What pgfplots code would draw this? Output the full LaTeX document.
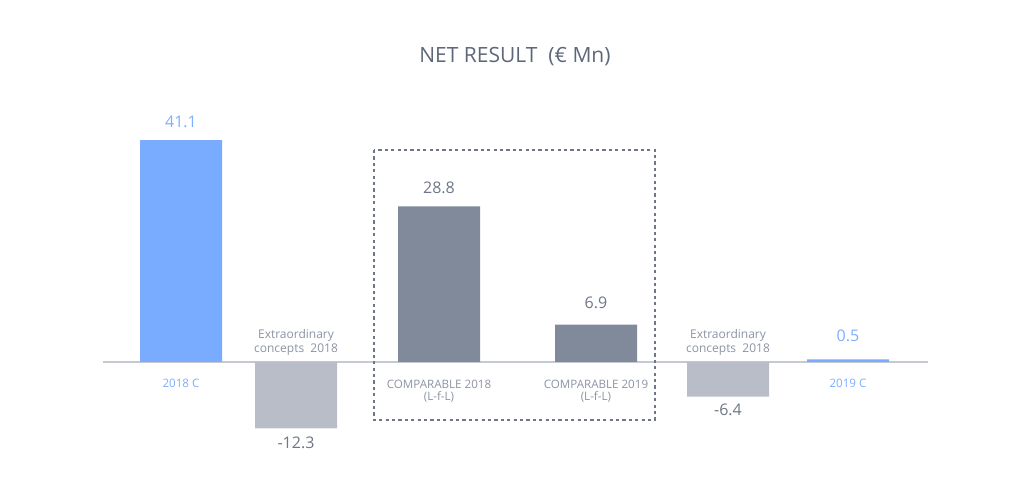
\documentclass[border=0pt]{standalone}
\usepackage{pgfplots}
\pgfplotsset{compat=1.18}
\usepackage{fontspec}
\setmainfont{Open Sans}
\definecolor{barblue}{HTML}{79ABFF}
\definecolor{bardark}{HTML}{808A9B}
\definecolor{barlight}{HTML}{B9BDC7}
\definecolor{titlecol}{HTML}{5E6779}
\definecolor{valcol}{HTML}{6E7687}
\definecolor{bluetext}{HTML}{7DAEFF}
\definecolor{catcol}{HTML}{8B93A3}
\definecolor{basecol}{HTML}{C5C9D1}
\begin{document}
\begin{tikzpicture}
\begin{axis}[
  scale only axis, width=515pt, height=247.5pt,
  xmin=0, xmax=1030, ymin=-24.63, ymax=67.04,
  axis lines=none, clip=false,
  ybar, bar width=82, bar shift=0pt,
]
\path (rel axis cs:0,0) rectangle (rel axis cs:1,1);
\draw[basecol, line width=0.7pt] (axis cs:103,0) -- (axis cs:928,0);
\addplot[fill=barblue, draw=none] coordinates {(181,41.1) (848,0.5)};
\addplot[fill=barlight, draw=none] coordinates {(296,-12.3) (728,-6.4)};
\addplot[fill=bardark, draw=none] coordinates {(439,28.8) (596,6.9)};
\draw[valcol, line width=0.6pt, dash pattern=on 1.6pt off 1.6pt] (rel axis cs:0.3631,0.6970) rectangle (rel axis cs:0.6359,0.1515);
% title
\node[titlecol, font=\fontsize{10.5}{12}\selectfont] at (rel axis cs:0.5,0.8848) {NET RESULT\ \ (€ Mn)};
% value labels
\node[bluetext, font=\fontsize{8}{10}\selectfont] at (rel axis cs:0.1757,0.7535) {41.1};
\node[valcol, font=\fontsize{8}{10}\selectfont] at (rel axis cs:0.2874,0.1051) {-12.3};
\node[valcol, font=\fontsize{8}{10}\selectfont] at (rel axis cs:0.4262,0.6202) {28.8};
\node[valcol, font=\fontsize{8}{10}\selectfont] at (rel axis cs:0.5786,0.3879) {6.9};
\node[valcol, font=\fontsize{8}{10}\selectfont] at (rel axis cs:0.7068,0.1717) {-6.4};
\node[bluetext, font=\fontsize{8}{10}\selectfont] at (rel axis cs:0.8233,0.3212) {0.5};
% category labels
\node[bluetext, font=\fontsize{5.8}{7}\selectfont] at (rel axis cs:0.1757,0.2263) {2018 C};
\node[bluetext, font=\fontsize{5.8}{7}\selectfont] at (rel axis cs:0.8233,0.2263) {2019 C};
\node[catcol, font=\fontsize{6}{7}\selectfont, align=center] at (rel axis cs:0.2874,0.3091) {Extraordinary\\concepts\ \ 2018};
\node[catcol, font=\fontsize{6}{7}\selectfont, align=center] at (rel axis cs:0.7068,0.3091) {Extraordinary\\concepts\ \ 2018};
\node[catcol, font=\fontsize{5.8}{6}\selectfont, align=center] at (rel axis cs:0.4262,0.2101) {COMPARABLE 2018\\(L-f-L)};
\node[catcol, font=\fontsize{5.8}{6}\selectfont, align=center] at (rel axis cs:0.5786,0.2101) {COMPARABLE 2019\\(L-f-L)};
\end{axis}
\end{tikzpicture}
\end{document}
